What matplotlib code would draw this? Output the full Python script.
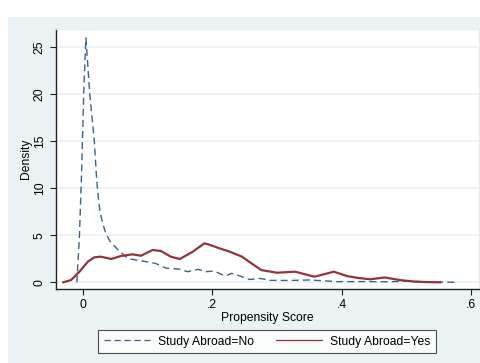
import matplotlib
matplotlib.use("Agg")
import matplotlib.pyplot as plt
import matplotlib.patches as patches

# kernel density of the propensity score, by study-abroad status
score_no = [-0.009, -0.005, -0.002, 0.0, 0.002, 0.005, 0.007, 0.011, 0.018, 0.0216,
            0.024, 0.027, 0.031, 0.034, 0.038, 0.042, 0.0525, 0.0695, 0.082, 0.098,
            0.113, 0.129, 0.149, 0.162, 0.178, 0.19, 0.203, 0.22, 0.23, 0.243,
            0.258, 0.274, 0.289, 0.32, 0.35, 0.371, 0.392, 0.43, 0.47, 0.506,
            0.54, 0.58]
dens_no = [0.0, 5.0, 11.0, 16.0, 21.0, 26.0, 24.0, 20.0, 15.0, 10.9,
           9.1, 7.4, 6.3, 5.56, 4.9, 4.4, 3.6, 2.55, 2.37, 2.2,
           2.0, 1.5, 1.41, 1.13, 1.38, 1.13, 1.2, 0.67, 0.95, 0.67,
           0.3, 0.42, 0.21, 0.2, 0.25, 0.17, 0.07, 0.08, 0.06, 0.12,
           0.04, 0.0]

score_yes = [-0.030, -0.018, -0.005, 0.008, 0.018, 0.028, 0.044, 0.059, 0.077, 0.09,
             0.108, 0.121, 0.136, 0.150, 0.17, 0.188, 0.194, 0.212, 0.227, 0.246,
             0.261, 0.276, 0.30, 0.328, 0.358, 0.388, 0.408, 0.423, 0.444, 0.466,
             0.49, 0.513, 0.535, 0.552]
dens_yes = [0.0, 0.24, 1.13, 2.2, 2.66, 2.73, 2.48, 2.8, 2.98, 2.83,
            3.44, 3.33, 2.73, 2.48, 3.26, 4.15, 4.04, 3.6, 3.26, 2.73,
            2.0, 1.3, 1.02, 1.13, 0.6, 1.13, 0.67, 0.49, 0.32, 0.52,
            0.24, 0.07, 0.02, 0.0]

x_ticks = [0, 0.2, 0.4, 0.6]
x_tick_labels = ["0", ".2", ".4", ".6"]
y_ticks = [0, 5, 10, 15, 20, 25]

bg = "#eaf2f3"
navy = "#3b6186"
maroon = "#90353b"

plt.rcParams["font.family"] = ["Liberation Sans", "DejaVu Sans"]
plt.rcParams["font.size"] = 8.7

fig = plt.figure(figsize=(4.8, 3.63), dpi=100)
# graph region background below a thin white strip
fig.add_artist(patches.Rectangle((8 / 480, 0), 1, 1 - 17 / 363,
                                 transform=fig.transFigure, facecolor=bg,
                                 edgecolor="none", zorder=-5))

ax = fig.add_axes([56 / 480, 1 - 289 / 363, 423 / 480, 260 / 363])
ax.set_facecolor("white")

ax.plot(score_no, dens_no, color=navy, lw=1.0, dashes=(5, 3),
        label="Study Abroad=No", zorder=3)
ax.plot(score_yes, dens_yes, color=maroon, lw=1.6,
        label="Study Abroad=Yes", zorder=4, solid_joinstyle="round")

ax.set_xlim(-0.0412, 0.612)
ax.set_ylim(-0.71, 26.95)
ax.set_xticks(x_ticks)
ax.set_xticklabels(x_tick_labels)
ax.set_yticks(y_ticks)
ax.set_yticklabels([str(v) for v in y_ticks], rotation=90, va="center")
ax.yaxis.grid(True, color=bg, lw=1.2)
ax.set_axisbelow(True)

for side in ["top", "right"]:
    ax.spines[side].set_color("#e4ecee")
    ax.spines[side].set_linewidth(0.8)
for side in ["left", "bottom"]:
    ax.spines[side].set_color("#222222")
    ax.spines[side].set_linewidth(1.0)
ax.tick_params(length=4.3, width=0.8, color="#222222", pad=3)

ax.set_xlabel("Propensity Score", labelpad=0.5)
ax.set_ylabel("Density", labelpad=1.5)

leg = fig.legend(loc="center", bbox_to_anchor=(267 / 480, 1 - 341.5 / 363),
                 ncol=2, frameon=True, fancybox=False, handlelength=3.8,
                 handletextpad=0.65, columnspacing=1.85, borderpad=0.45,
                 borderaxespad=0)
leg.get_frame().set_edgecolor("#222222")
leg.get_frame().set_linewidth(0.8)
for line in leg.get_lines():
    line.set_linewidth(0.9)

fig.savefig("out.png", dpi=100, facecolor="white")
